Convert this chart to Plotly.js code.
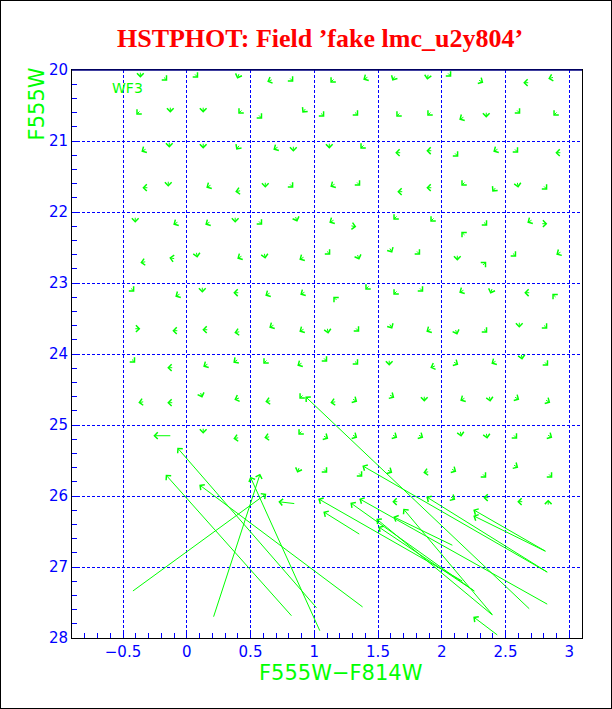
<!DOCTYPE html>
<html><head><meta charset="utf-8">
<script src="https://cdn.plot.ly/plotly-3.0.1.min.js"></script>
<style>
html,body{margin:0;padding:0;background:#fff;}
#wrap{width:610px;height:707px;border:1px solid #000;}
#plot{width:610px;height:707px;}
</style></head><body>
<div id="wrap"><div id="plot"></div></div>
<script>
// Short vectors (fake stars recovered near their input position): head position + pointing direction (deg, screen)
const chevX = [
 -0.364,-0.153,0.090,0.396,0.631,0.836,1.126,1.384,1.612,1.886,2.075,2.326,2.639,2.835,
 -0.396,-0.129,0.129,0.404,0.592,0.906,1.079,1.345,1.643,1.886,2.137,2.349,2.616,2.875,
 -0.356,-0.137,0.129,0.388,0.679,0.836,1.118,1.361,1.635,1.879,2.130,2.404,2.600,2.891,
 -0.348,-0.145,0.153,0.380,0.616,0.836,1.126,1.361,1.651,1.879,2.153,2.396,2.600,2.828,
 -0.404,-0.106,0.145,0.380,0.592,0.867,1.118,1.330,1.620,1.910,2.153,2.357,2.671,2.828,
 -0.364,-0.137,0.083,0.396,0.616,0.883,1.126,1.353,1.612,1.831,2.122,2.349,2.584,2.898,
 -0.411,-0.090,0.122,0.365,0.616,0.890,1.149,1.400,1.620,1.855,2.137,2.381,2.647,2.867,
 -0.364,-0.113,0.122,0.373,0.647,0.883,1.110,1.353,1.612,1.879,2.122,2.357,2.608,2.828,
 -0.404,-0.153,0.129,0.365,0.600,0.867,1.102,1.345,1.588,1.910,2.130,2.389,2.631,2.835,
 -0.380,-0.153,0.122,0.373,0.616,0.883,1.126,1.337,1.628,1.863,2.145,2.381,2.608,2.851,
 0.129,0.365,0.608,0.875,1.110,1.337,1.651,1.855,2.153,2.357,2.592,2.867,
 0.867,1.102,1.377,1.612,1.855,2.114,2.349,2.600,2.867,
 1.612,2.106,2.326,2.592,2.835
];
const chevY = [
 20.108,20.151,20.108,20.123,20.165,20.165,20.179,20.137,20.151,20.137,20.094,20.179,20.179,20.123,
 20.630,20.601,20.601,20.615,20.686,20.601,20.658,20.644,20.658,20.644,20.700,20.672,20.615,20.644,
 21.151,21.094,21.108,21.123,21.123,21.151,21.108,21.108,21.165,21.137,21.221,21.151,21.165,21.165,
 21.658,21.644,21.658,21.714,21.658,21.658,21.644,21.630,21.714,21.658,21.630,21.714,21.658,21.686,
 22.151,22.179,22.179,22.151,22.179,22.137,22.151,22.208,22.108,22.137,22.277,22.193,22.151,22.165,
 22.714,22.644,22.644,22.658,22.658,22.672,22.601,22.672,22.573,22.601,22.686,22.700,22.630,22.601,
 23.123,23.193,23.137,23.137,23.179,23.165,23.193,23.094,23.165,23.123,23.137,23.151,23.137,23.151,
 23.644,23.672,23.658,23.700,23.630,23.686,23.714,23.686,23.644,23.686,23.728,23.700,23.630,23.644,
 24.123,24.193,24.179,24.123,24.137,24.165,24.108,24.151,24.165,24.193,24.151,24.137,24.080,24.165,
 24.686,24.686,24.615,24.644,24.672,24.630,24.686,24.672,24.615,24.672,24.658,24.672,24.644,24.686,
 25.123,25.193,25.179,25.137,25.193,25.179,25.179,25.179,25.165,25.193,25.193,25.179,
 25.672,25.672,25.728,25.672,25.672,25.658,25.742,25.601,25.742,
 26.080,26.052,26.024,26.080,26.052
];
const chevDir = [
 270,315,315,250,202,315,225,210,240,260,315,330,180,195,
 225,270,270,225,315,230,315,315,225,225,210,270,315,225,
 210,270,270,235,210,270,270,225,180,180,315,210,315,180,
 180,270,210,190,270,315,210,315,180,180,225,230,280,315,
 270,210,210,270,315,290,210,350,225,225,135,315,210,0,
 190,170,280,210,280,210,315,290,300,315,270,45,315,210,
 315,210,270,180,210,210,135,225,225,315,210,250,180,135,
 0,180,180,190,210,210,280,315,300,210,290,315,270,315,
 315,180,210,215,225,210,315,315,270,200,330,210,280,315,
 190,180,290,200,190,225,190,330,330,270,210,280,330,330,
 270,190,190,225,330,330,330,330,280,280,315,330,
 250,315,315,330,190,330,315,330,315,
 180,330,180,180,90
];

// Long vectors: input (tail) -> recovered (head), colour F555W-F814W and magnitude F555W
const tailX = [-0.121,2.694,0.828,1.024,1.387,-0.430,0.208,1.047,0.851,2.169,1.361,2.263,2.835,2.835,2.404,2.263,2.091,2.404,2.835,2.821,2.821,2.443];
const tailY = [25.151,27.601,27.700,27.587,27.573,27.348,27.714,27.911,26.108,27.206,26.545,27.348,27.531,27.080,27.686,27.348,26.700,27.686,27.080,26.785,26.785,27.967];
const headX = [-0.262,0.930,-0.165,-0.074,0.098,0.624,0.576,0.498,0.718,1.031,1.071,1.283,1.353,1.377,1.487,1.502,1.620,1.698,1.879,2.247,2.247,2.247];
const headY = [25.151,24.598,25.700,25.320,25.841,25.968,25.686,25.728,26.080,26.038,26.221,26.094,26.038,25.573,26.320,26.432,26.291,26.179,26.011,26.192,26.277,27.700];

const GREEN = '#00ff00', BLUE = '#0000ff';
const arrowStyle = {text:'', showarrow:true, arrowhead:4, arrowsize:1.3, arrowwidth:1,
  arrowcolor:GREEN, width:1, height:1, borderpad:0, font:{size:1}, xref:'x', yref:'y'};

const annotations = [];
const L = 6;
for (let i = 0; i < chevX.length; i++) {
  const t = chevDir[i] * Math.PI / 180;
  annotations.push(Object.assign({}, arrowStyle, {
    x: chevX[i], y: chevY[i], ax: -L * Math.cos(t), ay: L * Math.sin(t)
  }));
}
for (let i = 0; i < tailX.length; i++) {
  annotations.push(Object.assign({}, arrowStyle, {
    x: headX[i], y: headY[i], ax: tailX[i], ay: tailY[i], axref:'x', ayref:'y'
  }));
}
annotations.push({text:'WF3', x:-0.462, y:20.25, xref:'x', yref:'y', showarrow:false,
  font:{family:'DejaVu Sans', size:14, color:GREEN}});
annotations.push({text:'F555W\u2212F814W', x:0.528, y:-0.062, xref:'paper', yref:'paper',
  xanchor:'center', yanchor:'middle', showarrow:false,
  font:{family:'DejaVu Sans', size:21, color:GREEN}});
annotations.push({text:'F555W', x:-0.068, y:0.94, xref:'paper', yref:'paper', textangle:-90,
  xanchor:'center', yanchor:'middle', showarrow:false,
  font:{family:'DejaVu Sans', size:21, color:GREEN}});

const tickfont = {family:'DejaVu Sans', size:15, color:BLUE};
const layout = {
  width:610, height:707,
  margin:{l:71, r:29, t:69, b:70},
  paper_bgcolor:'#fff', plot_bgcolor:'#fff',
  showlegend:false,
  title:{text:'HSTPHOT: Field \u2019fake lmc_u2y804\u2019', x:0.523, xanchor:'center',
    y:0.948, yanchor:'middle', yref:'container',
    font:{family:'Liberation Serif', size:26, color:'#ff0000', weight:'bold'}},
  xaxis:{range:[-0.9,3.1], tick0:0, dtick:0.5, showgrid:true, gridcolor:BLUE, griddash:'3px,2px',
    gridwidth:1, zeroline:false, ticks:'inside', ticklen:8, tickcolor:BLUE, tickfont:tickfont,
    showline:true, linecolor:'#000', linewidth:1, mirror:true,
    minor:{dtick:0.1, ticks:'inside', ticklen:5, tickcolor:BLUE, showgrid:false}},
  yaxis:{range:[28,20], tick0:20, dtick:1, showgrid:true, gridcolor:BLUE, griddash:'3px,2px',
    gridwidth:1, zeroline:false, ticks:'inside', ticklen:8, tickcolor:BLUE, tickfont:tickfont,
    showline:true, linecolor:'#000', linewidth:1, mirror:true,
    minor:{dtick:0.2, ticks:'inside', ticklen:5, tickcolor:BLUE, showgrid:false}},
  shapes:[{type:'line', xref:'paper', yref:'paper', x0:0, x1:1, y0:1, y1:1,
    line:{color:'#000080', width:1.5}}],
  annotations: annotations
};
Plotly.newPlot('plot', [{x:[], y:[], type:'scatter', mode:'markers'}], layout,
  {displayModeBar:false, staticPlot:true});
</script></body></html>
